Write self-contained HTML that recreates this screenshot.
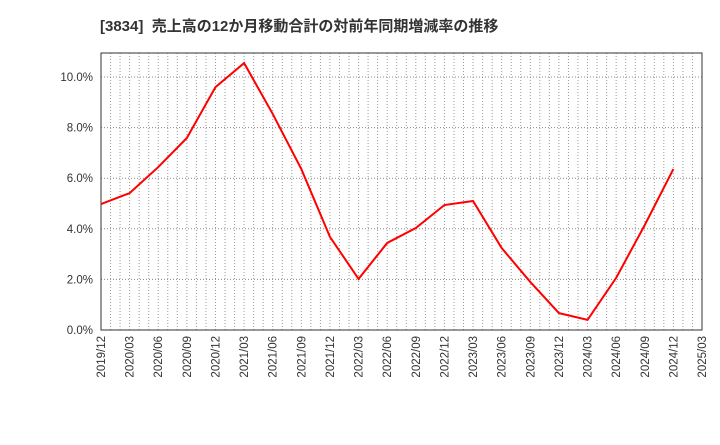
<!DOCTYPE html>
<html><head><meta charset="utf-8"><style>
body{margin:0;background:#fff;width:720px;height:440px;overflow:hidden;font-family:"Liberation Sans","Noto Sans CJK JP",sans-serif}
</style></head><body>
<svg width="720" height="440" id="chart">
<text x="100" y="31" font-size="15" font-weight="bold" fill="#333" xml:space="preserve" style="white-space:pre" font-family="Liberation Sans, Noto Sans CJK JP, sans-serif">[3834]  売上高の12か月移動合計の対前年同期増減率の推移</text>
</svg>
<script>
const categories=["2019/12","2020/03","2020/06","2020/09","2020/12","2021/03","2021/06","2021/09","2021/12","2022/03","2022/06","2022/09","2022/12","2023/03","2023/06","2023/09","2023/12","2024/03","2024/06","2024/09","2024/12","2025/03"];
const values=[4.98,5.41,6.44,7.59,9.6,10.55,8.54,6.36,3.68,2.02,3.44,4.03,4.94,5.10,3.24,1.9,0.67,0.40,2.06,4.15,6.36];
const yTicks=[0,2,4,6,8,10];
const yTickLabels=["0.0%","2.0%","4.0%","6.0%","8.0%","10.0%"];
const svg=document.getElementById('chart');const NS="http://www.w3.org/2000/svg";
const L=101,R=702,T=53,B=330;
const x=i=>L+(R-L)*i/(categories.length-1);
const y=v=>B-(B-77)*v/10;
function mk(t,a,name){const e=document.createElementNS(NS,t);for(const k in a)e.setAttribute(k,a[k]);


svg.appendChild(e);return e;}
mk('rect',{x:L,y:T,width:R-L,height:B-T,fill:'#fff'},'plot-area');
const months=(categories.length-1)*3;
for(let m=1;m<months;m++){const xx=L+(R-L)*m/months;mk('line',{x1:xx,x2:xx,y1:T,y2:B,stroke:'#999','stroke-dasharray':'1,2','stroke-width':1},'x-gridline');}
yTicks.forEach((v,i)=>{if(v>0)mk('line',{x1:L,x2:R,y1:y(v),y2:y(v),stroke:'#888','stroke-dasharray':'1,2'},'y-gridline');
const t=mk('text',{x:L-8,y:y(v)+4,'text-anchor':'end','font-size':11.5,fill:'#333'},'y-tick-label');t.textContent=yTickLabels[i];});
categories.forEach((c,i)=>{const t=mk('text',{x:0,y:0,transform:`translate(${x(i)+4},${B+6}) rotate(-90)`,'text-anchor':'end','font-size':11.5,fill:'#333'},'x-tick-label');t.textContent=c;});
mk('rect',{x:L,y:T,width:R-L,height:B-T,fill:'none',stroke:'#333','stroke-width':1},'plot-border');
mk('polyline',{points:values.map((v,i)=>x(i)+','+y(v)).join(' '),fill:'none',stroke:'#f00','stroke-width':2},'series-line');
</script>
</body></html>
